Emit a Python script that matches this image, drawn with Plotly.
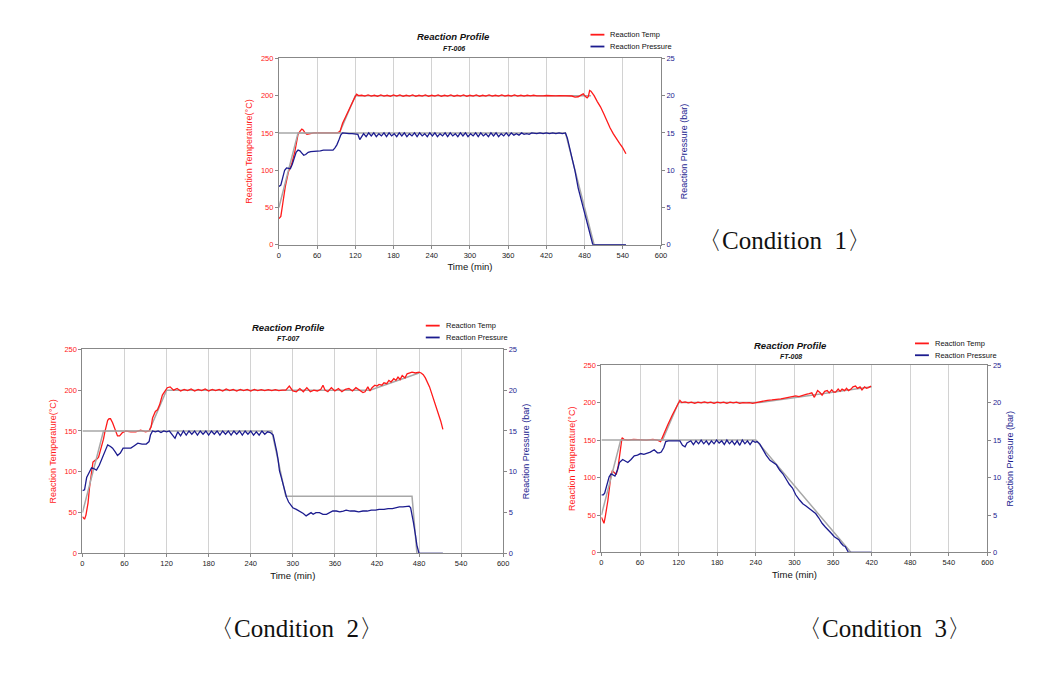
import plotly.graph_objects as go

RED = "#ff1a1a"
NAVY = "#1c1c8f"
GRAY = "#a8a8a8"

# ---------------- Condition 1 (FT-006) ----------------
c1_temp_t = ([0, 3, 6, 10, 15, 20, 25, 30, 33, 36, 38, 41, 44, 48, 55, 65, 75, 85, 92, 96,
              100, 105, 110, 115, 120, 122, 125]
             + list(range(130, 465, 5))
             + [465, 470, 475, 478, 481, 484, 486, 488, 490, 492, 495, 500, 505, 510, 515,
                520, 525, 530, 535, 540, 545])
c1_temp = ([35, 38, 55, 78, 98, 108, 125, 148, 152, 155, 154, 150, 148, 149, 150, 150, 150, 150, 150, 152,
            163, 172, 180, 190, 199, 202, 200]
           + [200.5, 199.5, 201, 199.5, 200.5, 199, 201, 199.5, 200.5, 199,
              201, 199.5, 201, 199, 200.5, 199.5, 201, 199, 200.5, 199.5,
              201, 199, 200.5, 199.5, 201, 199, 200.5, 199.5, 201, 199,
              200.5, 199.5, 201, 199, 200.5, 199.5, 201, 199, 200.5, 199.5,
              201, 199.5, 200.5, 199.5, 201, 199.5, 200.5, 199.5, 201, 199.5,
              200.5, 199.5, 200.5, 199.8, 200.5, 199.8, 200.3, 199.8, 200.2, 199.8,
              200.2, 199.8, 200, 200, 200, 199.8, 199.5]
           + [198, 198.5, 201, 202.5, 199, 197, 199, 207, 206, 204, 200, 192, 185, 176, 166,
              157, 149, 142, 136, 130, 122])
c1_pres_t = ([0, 3, 6, 9, 12, 15, 18, 21, 24, 27, 30, 33, 36, 39, 42, 46, 50, 55, 60, 65,
              70, 75, 80, 85, 88, 91, 94, 97, 100, 105, 110, 115, 120, 124, 127, 130, 133]
             + list(range(137, 401, 4))
             + [405, 410, 415, 420, 425, 430, 435, 440, 445, 450, 453, 456, 460, 465, 470,
                475, 480, 485, 488, 491, 493, 545])
c1_pres = ([7.8, 8.0, 9.0, 10.0, 10.3, 10.3, 10.2, 10.8, 11.8, 12.4, 12.7, 12.6, 12.3, 12.0, 12.1,
            12.4, 12.5, 12.5, 12.6, 12.6, 12.7, 12.7, 12.6, 12.7, 13.0, 13.4, 14.0, 14.7, 15.0, 14.9,
            14.9, 14.9, 14.9, 14.8, 14.1, 14.5, 14.9]
           + [14.5, 15.0, 14.6, 15.0, 14.5, 14.9,
              14.6, 15.0, 14.5, 15.0, 14.6, 14.9,
              14.5, 15.0, 14.6, 15.0, 14.5, 14.9,
              14.6, 15.0, 14.5, 15.0, 14.6, 14.9,
              14.5, 15.0, 14.6, 15.0, 14.5, 14.9,
              14.6, 15.0, 14.5, 15.0, 14.6, 14.9,
              14.5, 15.0, 14.6, 15.0, 14.5, 14.9,
              14.6, 15.0, 14.5, 15.0, 14.6, 14.9,
              14.5, 15.0, 14.6, 15.0, 14.5, 14.9,
              14.6, 15.0, 14.6, 15.0, 14.7, 14.9,
              14.7, 15.0, 14.8, 14.9, 14.8, 15.0]
           + [14.9, 15.0, 14.9, 15.0, 14.9, 15.0, 14.9, 15.0, 14.9, 15.0, 14.3, 13.2, 11.8, 9.9, 7.6,
              5.9, 4.3, 2.5, 1.5, 0.5, 0, 0])
c1_sp_temp_t = [0, 95, 120, 490]
c1_sp_temp = [150, 150, 200, 200]
c1_sp_pres_t = [0, 30, 450, 495, 545]
c1_sp_pres = [5, 15, 15, 0, 0]

# ---------------- Condition 2 (FT-007) ----------------
c2_temp_t = ([0, 3, 5, 8, 10, 13, 15, 18, 20, 23, 27, 30, 32, 34, 36, 38, 40, 43, 46, 50, 53, 57,
              62, 69, 76, 83, 90, 95, 98, 100, 104, 107, 110, 114, 117, 121, 125]
             + list(range(130, 291, 5))
             + [295, 300, 305, 310, 315, 320, 325, 330, 335, 340, 343, 346, 350, 355, 360, 365, 370,
                375, 380, 385, 390, 395, 400, 403, 407, 410, 413, 417, 420, 423, 427, 430, 434, 437,
                440, 444, 447, 450, 453, 456, 460, 463, 466, 470, 475, 480, 483, 486, 489, 492, 495,
                498, 501, 504, 508, 511, 514])
c2_temp = ([45, 42, 47, 62, 80, 98, 112, 114, 115, 118, 129, 140, 149, 157, 163, 165, 165, 160, 153, 144,
            144, 148, 150, 149, 149, 151, 149, 150, 155, 166, 174, 176, 182, 194, 198, 203, 204]
           + [200, 202, 199, 201, 199.5, 201.5, 199, 201, 199.5, 201.5, 199,
              201, 199.5, 201, 199, 201.5, 199.5, 201, 199, 201, 199.5, 201,
              199, 201, 199.5, 200.5, 199.5, 200.5, 199.5, 200.5, 199.5, 200, 200]
           + [205, 199, 198, 202, 198, 203, 198, 200, 199, 201, 206, 200, 198, 203, 199, 202, 198,
              201, 202, 199, 203, 200, 197, 198, 204, 199, 203, 206, 205, 207, 206, 209, 208, 212,
              210, 214, 212, 216, 213, 218, 215, 220, 221, 222, 221, 222, 221, 219, 215, 210, 204,
              196, 188, 180, 172, 162, 152])
c2_pres_t = ([0, 3, 6, 9, 13, 16, 20, 24, 29, 33, 36, 40, 43, 47, 50, 54, 58, 63, 69, 74, 79, 85,
              91, 95, 97, 100]
             + list(range(104, 269, 4))
             + [272, 275, 277, 279, 281, 283, 286, 288, 291, 294, 297, 300, 305, 310, 315, 319, 322,
                326, 329, 333, 338, 343, 348, 352, 357, 362, 367, 372, 376, 382, 388, 394, 400, 406,
                412, 418, 423, 430, 436, 442, 447, 452, 457, 462, 466, 468, 470, 472, 475, 477, 480, 514])
c2_pres = ([7.7, 7.8, 9.3, 9.8, 10.5, 10.4, 10.2, 10.8, 11.9, 12.8, 13.3, 13.1, 12.9, 12.4, 12.0,
            12.3, 12.9, 12.9, 12.9, 13.2, 13.5, 13.4, 13.4, 13.7, 14.5, 15.0]
           + [14.9, 15.0, 14.8, 15.0, 14.9, 15.0, 14.6, 14.1, 14.9, 14.4, 15.0, 14.5, 15.0, 14.6,
              15.0, 14.5, 15.0, 14.6, 15.0, 14.5, 15.0, 14.6, 15.0, 14.5, 15.0, 14.6, 15.0, 14.5,
              15.0, 14.6, 15.0, 14.5, 15.0, 14.6, 15.0, 14.5, 14.9, 14.5, 15.0, 14.6, 14.9, 14.8]
           + [14.5, 13.5, 12.5, 11.5, 10.1, 9.5, 8.5, 7.9, 6.9, 6.3, 5.9, 5.6, 5.4, 5.2, 4.9, 4.6,
              4.8, 5.0, 4.8, 5.0, 5.0, 4.8, 4.8, 5.0, 5.2, 5.2, 5.1, 5.2, 5.3, 5.2, 5.2, 5.1, 5.2,
              5.2, 5.3, 5.3, 5.4, 5.4, 5.5, 5.5, 5.6, 5.7, 5.7, 5.8, 5.8, 5.6, 4.8, 3.8, 2.2, 1.0,
              0, 0])
c2_sp_temp_t = [0, 95, 120, 410, 480]
c2_sp_temp = [150, 150, 200, 200, 221]
c2_sp_pres_t = [0, 30, 270, 290, 470, 477, 514]
c2_sp_pres = [5, 15, 15, 7, 7, 0, 0]

# ---------------- Condition 3 (FT-008) ----------------
c3_temp_t = ([0, 2, 4, 6, 8, 10, 13, 15, 17, 20, 23, 26, 28, 30, 32, 35, 41, 50, 61, 70, 80, 87,
              92, 97, 103, 110, 116, 120, 122, 125]
             + list(range(130, 241, 5))
             + [245, 251, 258, 265, 272, 279, 285, 292, 298, 302, 307, 313, 318, 323, 327, 331, 336,
                340, 343, 347, 351, 354, 358, 361, 364, 368, 371, 374, 378, 381, 384, 388, 391, 395,
                398, 402, 405, 409, 412, 415, 419])
c3_temp = ([47, 42, 39, 48, 58, 69, 90, 104, 109, 107, 104, 115, 126, 140, 153, 151, 150, 151, 150,
            150, 151, 150, 148, 159, 170, 183, 193, 199, 203, 200]
           + [201, 199.5, 200.5, 199, 200.5, 199.5, 201, 199.5, 200.5, 199, 200.5, 199.5, 200.5,
              199, 200.5, 199.5, 200.5, 199, 200, 199.5, 200, 199, 200]
           + [200.5, 202, 203, 203.5, 204, 205, 206, 207, 208, 209, 208, 210, 211, 212, 213, 207,
              216, 213, 210, 215, 216, 213, 217, 214, 214, 218, 215, 218, 216, 219, 216, 218, 221,
              222, 219, 221, 217, 221, 219, 220, 222])
c3_pres_t = ([0, 3, 5, 8, 12, 15, 18, 21, 25, 28, 33, 37, 41, 46, 51, 56, 61, 66, 71, 76, 82, 87,
              90, 93, 97, 100, 104, 107, 112, 118, 122, 126, 130, 133, 135]
             + list(range(139, 240, 4))
             + [242, 246, 251, 256, 262, 268, 272, 277, 282, 287, 292, 297, 302, 308, 313, 318, 323,
                328, 333, 338, 343, 348, 353, 358, 362, 366, 369, 372, 376, 379, 382, 384, 390, 420])
c3_pres = ([7.7, 7.7, 7.9, 9.0, 10.1, 10.5, 10.3, 10.2, 11.0, 12.0, 12.4, 12.2, 12.0, 12.4, 12.9,
            13.0, 13.2, 13.1, 13.2, 13.4, 13.7, 13.3, 13.3, 13.4, 14.0, 14.8, 14.9, 14.9, 15.0, 15.0,
            14.9, 14.3, 14.1, 14.6, 14.7]
           + [14.9, 14.4, 14.9, 14.5, 15.0, 14.5, 14.9, 14.4, 14.9, 14.5, 15.0, 14.6, 14.9, 14.4,
              15.0, 14.5, 14.9, 14.4, 14.9, 14.3, 15.0, 14.5, 14.9, 14.4, 14.9, 14.7]
           + [14.8, 14.5, 13.7, 13.0, 12.3, 12.0, 11.7, 11.0, 10.5, 9.8, 9.1, 8.6, 7.7, 7.0, 6.5,
              6.2, 5.9, 5.6, 5.2, 4.6, 3.9, 3.4, 3.0, 2.5, 2.1, 1.8, 1.7, 1.3, 0.9, 0.8, 0.4, 0, 0, 0])
c3_sp_temp_t = [0, 95, 120, 245, 420]
c3_sp_temp = [150, 150, 200, 200, 221]
c3_sp_pres_t = [0, 30, 240, 388, 420]
c3_sp_pres = [5, 15, 15, 0, 0]

time_ticks = [0, 60, 120, 180, 240, 300, 360, 420, 480, 540, 600]
temp_ticks = [0, 50, 100, 150, 200, 250]
pres_ticks = [0, 5, 10, 15, 20, 25]
series_names = ["Reaction Temp", "Reaction Pressure"]
series_colors = [RED, NAVY]
run_ids = ["FT-006", "FT-007", "FT-008"]
condition_labels = ["〈Condition\u00a0\u00a01〉", "〈Condition\u00a0\u00a02〉", "〈Condition\u00a0\u00a03〉"]

# page body has an 8px margin; figure is sized to fit the window inside it
OFF = 8
W, H = 1058 - 2 * OFF, 673 - 2 * OFF
def px(x):
    return (x - OFF) / W
def py(y):
    return 1 - (y - OFF) / H

# plot boxes in (window) pixels: left, right, top, bottom
boxes = [(279, 664, 55, 244), (81, 505, 350, 557), (604, 993, 366, 556)]
# legend: line start x, line end x, text x, row1 y, row2 y
legend_geo = [(593, 607, 611, 31, 43), (427, 441, 445, 326, 338), (920, 934, 938, 344, 356)]
title_pos = [(455, 33, 45), (289, 328, 339), (795, 346, 357)]
cond_pos = [(788, 240), (297, 633), (889, 633)]

data_sets = [
    (c1_temp_t, c1_temp, c1_pres_t, c1_pres, c1_sp_temp_t, c1_sp_temp, c1_sp_pres_t, c1_sp_pres),
    (c2_temp_t, c2_temp, c2_pres_t, c2_pres, c2_sp_temp_t, c2_sp_temp, c2_sp_pres_t, c2_sp_pres),
    (c3_temp_t, c3_temp, c3_pres_t, c3_pres, c3_sp_temp_t, c3_sp_temp, c3_sp_pres_t, c3_sp_pres),
]

fig = go.Figure()
layout = dict(
    width=W, height=H, autosize=False,
    margin=dict(l=0, r=0, t=0, b=0),
    paper_bgcolor="white", plot_bgcolor="white",
    font=dict(family="Liberation Sans, Arial, sans-serif", color="#222"),
    showlegend=False,
    annotations=[], shapes=[],
)

for i, ds in enumerate(data_sets):
    tt, tv, pt, pv, stt, stv, spt, spv = ds
    xa = "x" if i == 0 else f"x{i+1}"
    ya_l = "y" if i == 0 else f"y{2*i+1}"
    ya_r = f"y{2*i+2}"
    fig.add_trace(go.Scatter(x=spt, y=spv, xaxis=xa, yaxis=ya_r, mode="lines",
                             line=dict(color=GRAY, width=1.5), hoverinfo="skip"))
    fig.add_trace(go.Scatter(x=stt, y=stv, xaxis=xa, yaxis=ya_l, mode="lines",
                             line=dict(color=GRAY, width=1.5), hoverinfo="skip"))
    fig.add_trace(go.Scatter(x=pt, y=pv, xaxis=xa, yaxis=ya_r, mode="lines", name=series_names[1],
                             line=dict(color=NAVY, width=1.3)))
    fig.add_trace(go.Scatter(x=tt, y=tv, xaxis=xa, yaxis=ya_l, mode="lines", name=series_names[0],
                             line=dict(color=RED, width=1.3)))

    L, R, T, B = boxes[i]
    xkey = "xaxis" if i == 0 else f"xaxis{i+1}"
    ylkey = "yaxis" if i == 0 else f"yaxis{2*i+1}"
    yrkey = f"yaxis{2*i+2}"
    layout[xkey] = dict(
        domain=[px(L), px(R)], anchor=ya_l, range=[0, 600], tickvals=time_ticks,
        showgrid=True, gridcolor="#d2d2d2", gridwidth=1, zeroline=False,
        showline=True, linecolor="#888", mirror=True, ticks="outside", ticklen=3,
        tickcolor="#888", tickfont=dict(size=7.5, color="#222"),
        title=dict(text="Time (min)", font=dict(size=9.5, color="#111"), standoff=4),
    )
    layout[ylkey] = dict(
        domain=[py(B), py(T)], anchor=xa, range=[0, 250], tickvals=temp_ticks,
        showgrid=False, zeroline=False, showline=True, linecolor="#888",
        ticks="outside", ticklen=3, tickcolor="#888",
        tickfont=dict(size=7.5, color=RED),
        title=dict(text="Reaction Temperature(°C)", font=dict(size=9, color=RED), standoff=6),
    )
    layout[yrkey] = dict(
        domain=[py(B), py(T)], anchor=xa, overlaying=ya_l, side="right",
        range=[0, 25], tickvals=pres_ticks,
        showgrid=False, zeroline=False, showline=True, linecolor="#888",
        ticks="outside", ticklen=3, tickcolor="#888",
        tickfont=dict(size=7.5, color=NAVY),
        title=dict(text="Reaction Pressure (bar)", font=dict(size=9, color=NAVY), standoff=6),
    )
    # legend (drawn as sample lines + text)
    x0, x1, xt, r1, r2 = legend_geo[i]
    for name, col, ry in zip(series_names, series_colors, (r1, r2)):
        layout["shapes"].append(dict(type="line", xref="paper", yref="paper",
                                     x0=px(x0), x1=px(x1), y0=py(ry), y1=py(ry),
                                     line=dict(color=col, width=1.8)))
        layout["annotations"].append(dict(
            x=px(xt), y=py(ry), xref="paper", yref="paper", showarrow=False,
            text=name, font=dict(size=7.5, color="#111"),
            xanchor="left", yanchor="middle"))
    cx, ty1, ty2 = title_pos[i]
    layout["annotations"].append(dict(
        x=px(cx), y=py(ty1), xref="paper", yref="paper", showarrow=False,
        text="<b><i>Reaction Profile</i></b>", font=dict(size=9.5, color="#111"),
        xanchor="center", yanchor="middle"))
    layout["annotations"].append(dict(
        x=px(cx), y=py(ty2), xref="paper", yref="paper", showarrow=False,
        text="<b><i>" + run_ids[i] + "</i></b>", font=dict(size=7, color="#111"),
        xanchor="center", yanchor="middle"))
    ccx, ccy = cond_pos[i]
    layout["annotations"].append(dict(
        x=px(ccx), y=py(ccy), xref="paper", yref="paper", showarrow=False,
        text=condition_labels[i],
        font=dict(size=25, color="#111", family="Liberation Serif, DejaVu Serif, serif"),
        xanchor="center", yanchor="middle"))

fig.update_layout(**layout)
fig.write_html("out.html")
